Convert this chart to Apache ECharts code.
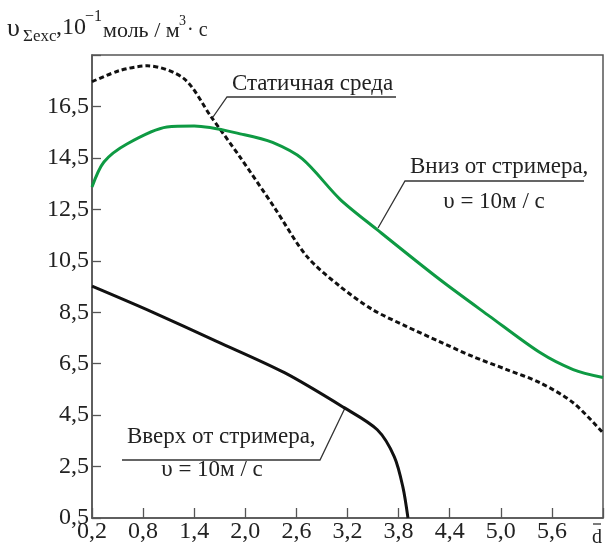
<!DOCTYPE html>
<html>
<head>
<meta charset="utf-8">
<script src="https://cdn.jsdelivr.net/npm/echarts@6/dist/echarts.min.js"></script>
<style>
  html, body { margin: 0; padding: 0; background: #fff; }
  #chart { width: 607px; height: 549px; }
</style>
</head>
<body>
<div id="chart"></div>
<script>
// значения
const staticD = [0.2, 0.52, 0.85, 1.28, 1.6, 1.93, 2.34, 2.72, 3.11, 3.49, 3.89, 4.28, 4.67, 5.07, 5.46, 5.85, 6.2];
const staticV = [17.46, 17.89, 18.08, 17.58, 16.09, 14.57, 12.58, 10.68, 9.51, 8.61, 7.95, 7.36, 6.78, 6.27, 5.76, 4.98, 3.81];

const downD = [0.2, 0.34, 0.61, 1.08, 1.4, 1.99, 2.32, 2.67, 3.11, 3.54, 4.28, 4.87, 5.46, 5.85, 6.2];
const downV = [13.37, 14.34, 15.04, 15.7, 15.74, 15.4, 15.1, 14.46, 12.9, 11.73, 9.78, 8.34, 6.93, 6.27, 5.96];

const upD = [0.2, 0.89, 1.67, 2.46, 3.16, 3.55, 3.75, 3.85, 3.91];
const upV = [9.51, 8.53, 7.36, 6.15, 4.79, 3.93, 2.88, 1.71, 0.5];

// оси начинаются с 0,2 и 0,5 – сдвигаем, чтобы деления шли от min
const X0 = 0.2, Y0 = 0.5;
const xTicks = { min: 0, max: 6.0, step: 0.6 };
const yTicks = { min: 0, max: 18, step: 2 };

function pts(ds, vs) {
  return ds.map((d, i) => [d - X0, vs[i] - Y0]);
}

const serif = 'Liberation Serif';
const fmt = v => v.toFixed(1).replace('.', ',');

const chart = echarts.init(document.getElementById('chart'));

const txt = (x, y, text, size, align) => ({
  type: 'text', silent: true,
  style: { x: x, y: y, text: text, font: size + 'px "' + serif + '"', fill: '#222', align: align || 'left', verticalAlign: 'middle' }
});
const line = (points) => ({
  type: 'polyline', silent: true,
  shape: { points: points },
  style: { stroke: '#333', lineWidth: 1.3, fill: null }
});

const option = {
  animation: false,
  grid: {
    left: 92, top: 55, right: 4, bottom: 31,
    show: true, borderColor: '#555', borderWidth: 1.5
  },
  xAxis: {
    type: 'value',
    min: xTicks.min, max: xTicks.max, interval: xTicks.step,
    axisLine: { lineStyle: { color: '#555', width: 1.5 } },
    axisTick: { inside: true, length: 10, lineStyle: { color: '#555', width: 1.3 } },
    axisLabel: {
      margin: 2, color: '#222', fontFamily: serif, fontSize: 24,
      formatter: v => v >= xTicks.max - 0.01 ? '' : fmt(v + X0)
    },
    splitLine: { show: false }
  },
  yAxis: {
    type: 'value',
    min: yTicks.min, max: yTicks.max, interval: yTicks.step,
    axisLine: { show: true, lineStyle: { color: '#555', width: 1.5 } },
    axisTick: { show: true, inside: true, length: 9, lineStyle: { color: '#555', width: 1.3 } },
    axisLabel: {
      margin: 3, color: '#222', fontFamily: serif, fontSize: 24,
      formatter: v => v >= yTicks.max - 0.01 ? '' : fmt(v + Y0)
    },
    splitLine: { show: false }
  },
  series: [
    {
      name: 'Статичная среда', type: 'line', smooth: 0.3, symbol: 'none',
      lineStyle: { color: '#111', width: 3, type: [5, 3] },
      data: pts(staticD, staticV)
    },
    {
      name: 'Вниз от стримера', type: 'line', smooth: 0.3, symbol: 'none',
      lineStyle: { color: '#0e9a43', width: 3 },
      data: pts(downD, downV)
    },
    {
      name: 'Вверх от стримера', type: 'line', smooth: 0.3, symbol: 'none',
      lineStyle: { color: '#111', width: 3 },
      data: pts(upD, upV)
    }
  ],
  graphic: [
    // подпись оси ординат
    txt(7, 29, 'υ', 26),
    txt(23, 37, 'Σexc', 17),
    txt(56, 28, ',10', 24),
    txt(85, 17, '−1', 16),
    txt(103, 31, 'моль / м', 22),
    txt(179, 21, '3', 14),
    txt(187, 31, '· с', 20),
    // подпись оси абсцисс
    txt(597, 538, 'd', 20, 'center'),
    line([[593, 524], [601, 524]]),
    // выноски
    txt(232, 84, 'Статичная среда', 23),
    line([[213, 117], [227, 97], [396, 97]]),
    txt(410, 167, 'Вниз от стримера,', 23),
    txt(494, 202, 'υ = 10м / с', 23, 'center'),
    line([[378, 228], [405, 181], [584, 181]]),
    txt(127, 437, 'Вверх от стримера,', 23),
    txt(212, 470, 'υ = 10м / с', 23, 'center'),
    line([[345, 408], [320, 460], [122, 460]])
  ]
};

chart.setOption(option);
</script>
</body>
</html>
